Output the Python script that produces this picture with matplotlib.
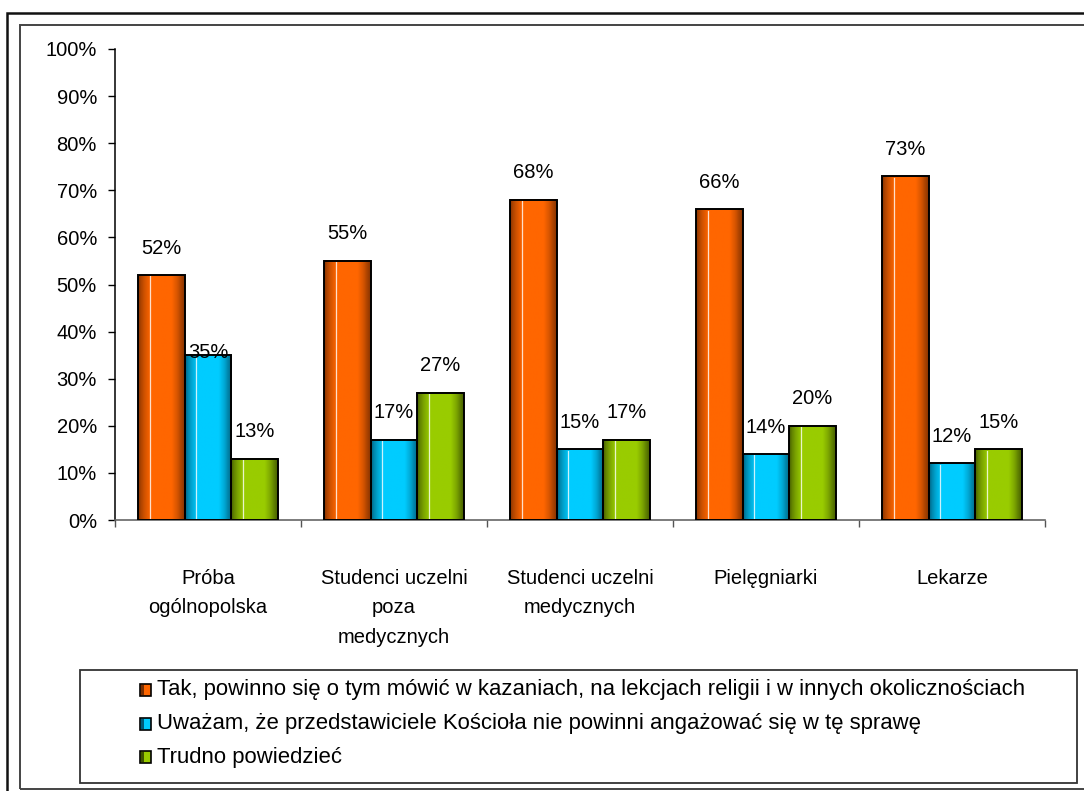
import numpy as np
import matplotlib
matplotlib.use("Agg")
import matplotlib.pyplot as plt
from matplotlib.colors import LinearSegmentedColormap
from matplotlib.patches import Rectangle

plt.rcParams["font.family"] = ["Liberation Sans", "DejaVu Sans"]

categories = ["Próba\nogólnopolska", "Studenci uczelni\npoza\nmedycznych",
              "Studenci uczelni\nmedycznych", "Pielęgniarki", "Lekarze"]
series_names = [
    "Tak, powinno się o tym mówić w kazaniach, na lekcjach religii i w innych okolicznościach",
    "Uważam, że przedstawiciele Kościoła nie powinni angażować się w tę sprawę",
    "Trudno powiedzieć",
]
tak = [52, 55, 68, 66, 73]
uwazam = [35, 17, 15, 14, 12]
trudno = [13, 27, 17, 20, 15]
values = [tak, uwazam, trudno]

# (dark, bright) per series
_COLORS = [("#7a2e00", "#ff6600"), ("#005a78", "#00ccff"), ("#3f5400", "#99cc00")]
# label nudges in pixels (series, category) -> offset above bar top
_LABEL_OFF = {(1, 0): 3}
FS = 14.5

W, H = 1084, 791
fig = plt.figure(figsize=(W / 100, H / 100), dpi=100)


def fx(x):
    return x / W


def fy(y):
    return 1 - y / H


# outer frames
fig.patches.append(Rectangle((fx(7), fy(800)), fx(1100 - 7), fy(13) - fy(800),
                             transform=fig.transFigure, fill=False, ec="#111111", lw=1.8))
fig.patches.append(Rectangle((fx(20), fy(789)), fx(1090 - 20), fy(25) - fy(789),
                             transform=fig.transFigure, fill=False, ec="#444444", lw=1.4))

ax = fig.add_axes([fx(115), fy(520), fx(1045) - fx(115), fy(49) - fy(520)])

n_cat = len(categories)
bw = 0.25
t = np.linspace(0, 1, 64)
prof = np.interp(t, [0, 0.06, 0.15, 0.27, 0.72, 0.84, 0.93, 1.0],
                 [0.1, 0.4, 0.7, 1.0, 1.0, 0.7, 0.35, 0.1])

for s, vals in enumerate(values):
    cmap = LinearSegmentedColormap.from_list(f"c{s}", list(_COLORS[s]))
    for i, v in enumerate(vals):
        x0 = i + 0.125 + s * bw
        ax.imshow(prof[np.newaxis, :], cmap=cmap, vmin=0, vmax=1, aspect="auto",
                  extent=[x0, x0 + bw, 0, v], zorder=2, interpolation="bilinear")
        ax.plot([x0 + bw * 0.25] * 2, [0.3, v - 0.3], color="white", lw=0.9,
                alpha=0.8, zorder=3)
        ax.add_patch(Rectangle((x0, 0), bw, v, fill=False, ec="black", lw=1.4, zorder=4))
        off = _LABEL_OFF.get((s, i), 27)
        ax.annotate(f"{v}%", (x0 + bw / 2, v), xytext=(0, off * 0.72),
                    textcoords="offset points", ha="center", va="center",
                    fontsize=FS, zorder=5)

ax.set_xlim(0, n_cat)
ax.set_ylim(0, 100)
ax.set_yticks(range(0, 101, 10))
ax.set_yticklabels([f"{v}%" for v in range(0, 101, 10)], fontsize=FS)
ax.set_xticks(np.arange(n_cat) + 0.5)
ax.set_xticklabels(categories, fontsize=FS, linespacing=1.7)
ax.set_xticks(range(n_cat + 1), minor=True)
ax.tick_params(axis="x", which="major", length=0, pad=35)
ax.tick_params(axis="x", which="minor", length=5, width=1, color="#555555")
ax.tick_params(axis="y", length=5, width=1, pad=8)
for sp in ("top", "right"):
    ax.spines[sp].set_visible(False)
ax.spines["left"].set_linewidth(1.1)
ax.spines["bottom"].set_color("#666666")
ax.spines["bottom"].set_linewidth(1.2)
ax.set_facecolor("none")

# legend box
fig.patches.append(Rectangle((fx(80), fy(783)), fx(1077) - fx(80), fy(670) - fy(783),
                             transform=fig.transFigure, fill=False, ec="#333333", lw=1.3))
for s, name in enumerate(series_names):
    yc = 690 + s * 33.5
    fig.patches.append(Rectangle((fx(140), fy(yc + 6)), fx(11), fy(0) - fy(12),
                                 transform=fig.transFigure, fc=_COLORS[s][1],
                                 ec="black", lw=1.2))
    fig.patches.append(Rectangle((fx(141), fy(yc + 5)), fx(3), fy(0) - fy(10),
                                 transform=fig.transFigure, fc=_COLORS[s][0], lw=0))
    fig.text(fx(157), fy(yc), name, fontsize=15.9, va="center", ha="left")

fig.savefig("out.png", dpi=100)
